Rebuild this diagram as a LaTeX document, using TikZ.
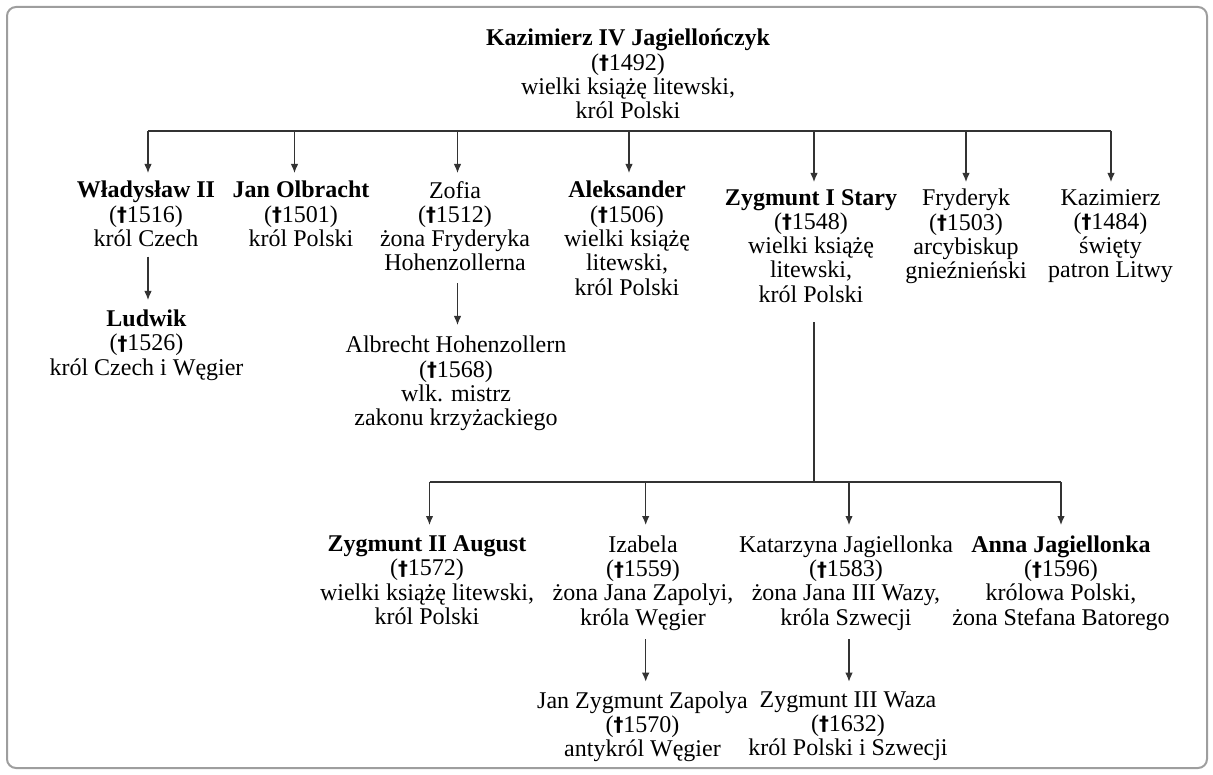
\documentclass[tikz,border=0pt]{standalone}
\usepackage{fontspec}
\setmainfont{Liberation Serif}
\newfontfamily\dagf{DejaVu Sans}[Scale=0.82]
\usetikzlibrary{arrows.meta}
\newcommand{\mydag}{\raisebox{0.6pt}{\dagf\bfseries †}}
\newcommand{\pst}{\rule[-5pt]{0pt}{17pt}}
\definecolor{linec}{HTML}{333333}
\definecolor{framec}{HTML}{9E9E9E}
\definecolor{txtc}{HTML}{000000}
\begin{document}
\begin{tikzpicture}[x=1pt,y=-1pt,
  person/.style={align=center,inner sep=0pt,anchor=north,text=txtc,
    font=\fontsize{24}{24.3}\selectfont},
  conn/.style={draw=linec,line width=1.2pt},
  arr/.style={conn,-{Latex[length=9pt,width=7.5pt]}}]
\useasboundingbox (0,0) rectangle (1213,775);
\draw[framec,line width=2pt,rounded corners=9pt] (7,7) rectangle (1207,768);

% nodes
\node[person] (k4) at (628,29) {\pst\textbf{Kazimierz IV Jagiellończyk}\\(\mydag1492)\\wielki książę litewski,\\król Polski\pst};
\node[person] (wl) at (146,181) {\pst\textbf{Władysław II}\\(\mydag1516)\\król Czech\pst};
\node[person] (jo) at (301,181) {\pst\textbf{Jan Olbracht}\\(\mydag1501)\\król Polski\pst};
\node[person] (zo) at (455,181) {\pst Zofia\\(\mydag1512)\\żona Fryderyka\\Hohenzollerna\pst};
\node[person] (al) at (627,181) {\pst\textbf{Aleksander}\\(\mydag1506)\\wielki książę\\litewski,\\król Polski\pst};
\node[person] (zy) at (811,189) {\pst\textbf{Zygmunt I Stary}\\(\mydag1548)\\wielki książę\\litewski,\\król Polski\pst};
\node[person] (fr) at (966,189) {\pst Fryderyk\\(\mydag1503)\\arcybiskup\\gnieźnieński\pst};
\node[person] (ka) at (1110.5,189) {\pst Kazimierz\\(\mydag1484)\\święty\\patron Litwy\pst};
\node[person] (lu) at (146.5,309.7) {\pst\textbf{Ludwik}\\(\mydag1526)\\król Czech i Węgier\pst};
\node[person] (ah) at (456,336) {\pst Albrecht Hohenzollern\\(\mydag1568)\\wlk. mistrz\\zakonu krzyżackiego\pst};
\node[person] (z2) at (427,535.5) {\pst\textbf{Zygmunt II August}\\(\mydag1572)\\wielki książę litewski,\\król Polski\pst};
\node[person] (iz) at (643,535.5) {\pst Izabela\\(\mydag1559)\\żona Jana Zapolyi,\\króla Węgier\pst};
\node[person] (kt) at (846,535.5) {\pst Katarzyna Jagiellonka\\(\mydag1583)\\żona Jana III Wazy,\\króla Szwecji\pst};
\node[person] (an) at (1061,535.5) {\pst\textbf{Anna Jagiellonka}\\(\mydag1596)\\królowa Polski,\\żona Stefana Batorego\pst};
\node[person] (jz) at (642.5,691.3) {\pst Jan Zygmunt Zapolya\\(\mydag1570)\\antykról Węgier\pst};
\node[person] (z3) at (848,691.3) {\pst Zygmunt III Waza\\(\mydag1632)\\król Polski i Szwecji\pst};

% bar 1
\coordinate (b-wl) at (148,131);
\coordinate (b-jo) at (294.5,131);
\coordinate (b-zo) at (457.5,131);
\coordinate (b-al) at (629,131);
\coordinate (b-zy) at (814,131);
\coordinate (b-fr) at (966,131);
\coordinate (b-ka) at (1111,131);
\draw[conn] (b-wl) -- (b-ka);
\foreach \n in {wl,jo,zo,al}{\draw[arr,shorten >=8pt] (b-\n) -- (b-\n |- \n.north);}
\foreach \n in {zy,fr,ka}{\draw[arr,shorten >=7pt] (b-\n) -- (b-\n |- \n.north);}

\draw[arr,shorten <=5pt,shorten >=9.7pt] (b-wl |- wl.south) -- (b-wl |- lu.north);
\draw[arr,shorten <=7pt,shorten >=11pt] (b-zo |- zo.south) -- (b-zo |- ah.north);

% bar 2
\coordinate (c-z2) at (429.5,482);
\coordinate (c-iz) at (645.7,482);
\coordinate (c-kt) at (849,482);
\coordinate (c-an) at (1061,482);
\draw[conn,shorten <=15pt] (b-zy |- zy.south) -- (b-zy |- c-z2);
\draw[conn] (c-z2) -- (c-an);
\foreach \n in {z2,iz,kt,an}{\draw[arr,shorten >=10.5pt] (c-\n) -- (c-\n |- \n.north);}

\draw[arr,shorten <=8.6pt,shorten >=9.6pt] (c-iz |- iz.south) -- (c-iz |- jz.north);
\draw[arr,shorten <=8.6pt,shorten >=9.6pt] (c-kt |- kt.south) -- (c-kt |- z3.north);
\end{tikzpicture}
\end{document}
